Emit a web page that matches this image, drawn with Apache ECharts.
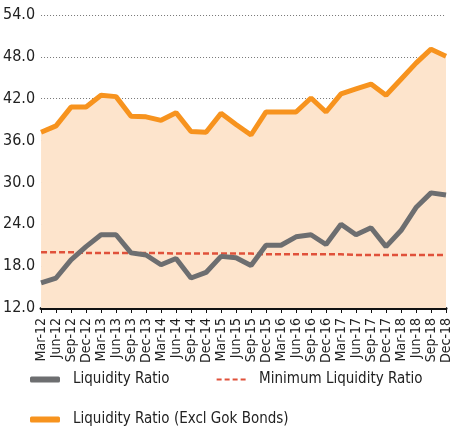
<!DOCTYPE html>
<html>
<head>
<meta charset="utf-8">
<script src="https://cdn.jsdelivr.net/npm/echarts@6/dist/echarts.min.js"></script>
<style>
  html, body { margin: 0; padding: 0; background: #fff; }
  #chart { width: 453px; height: 436px; }
</style>
</head>
<body>
<div id="chart"></div>
<script>
// quarters Mar-12 .. Dec-18
const quarters = [
  'Mar-12', 'Jun-12', 'Sep-12', 'Dec-12', 'Mar-13', 'Jun-13', 'Sep-13', 'Dec-13',
  'Mar-14', 'Jun-14', 'Sep-14', 'Dec-14', 'Mar-15', 'Jun-15', 'Sep-15', 'Dec-15',
  'Mar-16', 'Jun-16', 'Sep-16', 'Dec-16', 'Mar-17', 'Jun-17', 'Sep-17', 'Dec-17',
  'Mar-18', 'Jun-18', 'Sep-18', 'Dec-18'
];
const liquidityRatio = [
  15.6, 16.3, 18.9, 20.8, 22.5, 22.5, 19.9, 19.6,
  18.2, 19.1, 16.3, 17.1, 19.4, 19.2, 18.1, 21.0,
  21.0, 22.2, 22.5, 21.1, 24.0, 22.5, 23.5, 20.8,
  23.1, 26.4, 28.5, 28.2
];
const minLiquidityRatio = [
  20.0, 20.0, 20.0, 19.9, 19.9, 19.9, 19.9, 19.9,
  19.9, 19.8, 19.8, 19.8, 19.8, 19.8, 19.8, 19.7,
  19.7, 19.7, 19.7, 19.7, 19.7, 19.6, 19.6, 19.6,
  19.6, 19.6, 19.6, 19.6
];
const liquidityExclGok = [
  37.2, 38.1, 40.8, 40.8, 42.5, 42.3, 39.5, 39.4,
  38.9, 40.0, 37.3, 37.2, 39.9, 38.3, 36.8, 40.1,
  40.1, 40.1, 42.1, 40.1, 42.7, 43.4, 44.1, 42.5,
  44.8, 47.1, 49.1, 48.1
];
const yTicks = { min: 12, max: 54, interval: 6 };

const font = "'Liberation Sans Narrow', 'DejaVu Sans Condensed', sans-serif";

// dashed legend icon; the zero-width rect keeps the icon box 6px tall
const dashIcon = 'path://M0,0h0v6h0z M0,2h5v2h-5z M8,2h5v2h-5z M16,2h5v2h-5z M24,2h5v2h-5z';

const legendText = { fontFamily: font, fontSize: 15, color: '#222', padding: [0, 0, 0, 8] };

const chart = echarts.init(document.getElementById('chart'));

const option = {
  animation: false,
  textStyle: { fontFamily: font },
  grid: { left: 40, right: 7, top: 15, bottom: 128 },
  legend: [
    {
      left: 25,
      top: 367,
      itemWidth: 30,
      itemHeight: 6,
      itemGap: 47,
      textStyle: legendText,
      data: [
        { name: 'Liquidity Ratio', icon: 'roundRect' },
        { name: 'Minimum Liquidity Ratio', icon: dashIcon }
      ]
    },
    {
      left: 25,
      top: 407,
      itemWidth: 30,
      itemHeight: 6,
      textStyle: legendText,
      data: [{ name: 'Liquidity Ratio (Excl Gok Bonds)', icon: 'roundRect' }]
    }
  ],
  xAxis: {
    type: 'category',
    data: quarters,
    boundaryGap: false,
    axisLine: { lineStyle: { color: '#111', width: 3 } },
    axisTick: { show: true, alignWithLabel: true, length: 5, lineStyle: { color: '#111', width: 1 } },
    axisLabel: {
      interval: 0,
      rotate: 90,
      fontSize: 14,
      color: '#222',
      margin: 10,
      fontFamily: font
    },
    splitLine: { show: false }
  },
  yAxis: {
    type: 'value',
    min: yTicks.min,
    max: yTicks.max,
    interval: yTicks.interval,
    axisLine: { show: false },
    axisTick: { show: false },
    axisLabel: {
      formatter: v => v.toFixed(1),
      fontSize: 16,
      color: '#222',
      margin: 6,
      fontFamily: font
    },
    splitLine: { lineStyle: { color: '#777', type: [1, 2], width: 1 } }
  },
  series: [
    {
      name: 'Liquidity Ratio (Excl Gok Bonds)',
      type: 'line',
      data: liquidityExclGok,
      symbol: 'none',
      lineStyle: { color: '#f7931e', width: 5 },
      itemStyle: { color: '#f7931e' },
      areaStyle: { color: '#fde4cc', opacity: 1 },
      z: 2
    },
    {
      name: 'Minimum Liquidity Ratio',
      type: 'line',
      data: minLiquidityRatio,
      symbol: 'none',
      lineStyle: { color: '#e0513a', width: 2.5, type: [6, 3] },
      itemStyle: { color: '#e0513a' },
      z: 3
    },
    {
      name: 'Liquidity Ratio',
      type: 'line',
      data: liquidityRatio,
      symbol: 'none',
      lineStyle: { color: '#6d6e70', width: 5 },
      itemStyle: { color: '#6d6e70' },
      z: 4
    }
  ]
};

chart.setOption(option);
</script>
</body>
</html>
